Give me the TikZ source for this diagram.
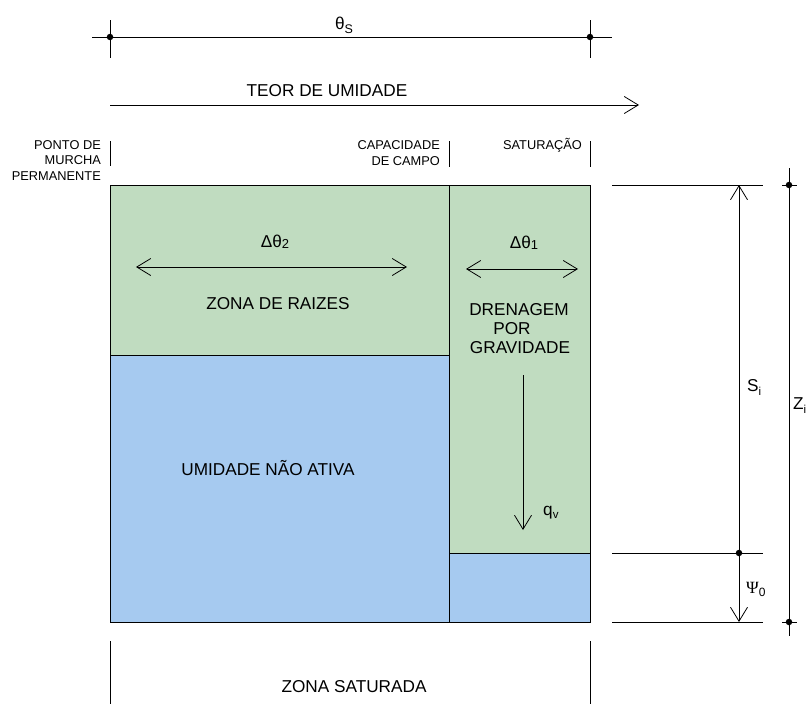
\documentclass[tikz,border=0pt]{standalone}
\usepackage{fontspec}
\setmainfont{Liberation Sans}
\newfontfamily\serifgr{Liberation Serif}
\usetikzlibrary{arrows.meta}
\definecolor{zgreen}{HTML}{C0DCC0}
\definecolor{zblue}{HTML}{A6CAF0}
\begin{document}
\begin{tikzpicture}[x=1pt,y=-1pt,
  ln/.style={line width=0.8pt, draw=black},
  barb/.style={ln, -{Straight Barb[length=14pt,width=17pt]}},
  dbarb/.style={ln, {Straight Barb[length=14pt,width=17pt]}-{Straight Barb[length=14pt,width=17pt]}},
  big/.style={font=\fontsize{17.2}{20}\selectfont, inner sep=0pt, anchor=base},
  bigw/.style={big, anchor=base west},
  small/.style={font=\fontsize{12.8}{15}\selectfont, inner sep=0pt, anchor=base east},
  dot/.style={circle, fill=black, inner sep=0pt, minimum size=6.5pt}
]
\useasboundingbox (0,0) rectangle (812,704);
% zones
\fill[zgreen] (110,185) rectangle (449,355);
\fill[zblue] (110,355) rectangle (449,622);
\fill[zgreen] (449,185) rectangle (590,553);
\fill[zblue] (449,553) rectangle (590,622);
\draw[ln] (110,185) rectangle (590,622);
\draw[ln] (449,185) -- (449,622);
\draw[ln] (110,355) -- (449,355);
\draw[ln] (449,553) -- (590,553);
% top dimension
\coordinate (tl) at (92,37); \coordinate (tr) at (612,37);
\draw[ln] (tl) -- (tr);
\draw[ln] (110,20) -- (110,58);
\draw[ln] (590,20) -- (590,58);
\node[dot] (d1) at (110,37) {};
\node[dot] (d2) at (590,37) {};
\node[big] (thS) at (344,30) {θ\raisebox{-3pt}{\fontsize{12.5}{14}\selectfont S}};
% moisture arrow
\node[big] (teor) at (327,96) {TEOR DE UMIDADE};
\coordinate (a1) at (110,105); \coordinate (a2) at (639,105);
\draw[barb] (a1) -- (a2);
% small labels
\node[small] (p1) at (101,149) {PONTO DE};
\node[small] (p2) at (101,164.5) {MURCHA};
\node[small] (p3) at (101,180) {PERMANENTE};
\node[small] (c1) at (440,149) {CAPACIDADE};
\node[small] (c2) at (440,165) {DE CAMPO};
\node[small] (s1) at (582,149) {SATURAÇÃO};
\draw[ln] (110,141) -- (110,166);
\draw[ln] (449,141) -- (449,167);
\draw[ln] (590,141) -- (590,167);
% delta arrows
\node[big] (dt2) at (275,247) {Δθ\raisebox{-1pt}{\fontsize{13}{14}\selectfont 2}};
\node[big] (dt1) at (524,248) {Δθ\raisebox{-1pt}{\fontsize{13}{14}\selectfont 1}};
\coordinate (b1) at (136,267); \coordinate (b2) at (407,267);
\draw[dbarb] (b1) -- (b2);
\coordinate (e1) at (466,269); \coordinate (e2) at (578,269);
\draw[dbarb] (e1) -- (e2);
% zone texts
\node[big] (zr) at (278,309) {ZONA DE RAIZES};
\node[big] (dr1) at (519,315) {DRENAGEM};
\node[big] (dr2) at (512,334) {POR};
\node[big] (dr3) at (520,353) {GRAVIDADE};
\node[big] (una) at (268,475) {UMIDADE NÃO ATIVA};
\coordinate (q1) at (523,375); \coordinate (q2) at (523,530);
\draw[barb] (q1) -- (q2);
\node[bigw] (qv) at (543,515) {q\raisebox{-3pt}{\fontsize{11.5}{13}\selectfont v}};
% bottom
\node[big] (zs) at (354,692) {ZONA SATURADA};
\draw[ln] (110,641) -- (110,704);
\draw[ln] (590,641) -- (590,704);
% right dimensions
\coordinate (h1) at (612,185); \coordinate (h1e) at (763,185);
\coordinate (h2) at (612,553); \coordinate (h2e) at (763,553);
\coordinate (h3) at (612,622); \coordinate (h3e) at (763,622);
\draw[ln] (h1) -- (h1e);
\draw[ln] (h2) -- (h2e);
\draw[ln] (h3) -- (h3e);
\coordinate (si1) at (739,185); \coordinate (si2) at (739,622);
\draw[dbarb] (si1) -- (si2);
\node[dot] (d3) at (739,553) {};
\coordinate (z1) at (789,168); \coordinate (z2) at (789,636);
\draw[ln] (z1) -- (z2);
\draw[ln] (782,185) -- (797,185);
\draw[ln] (782,622) -- (797,622);
\node[dot] (d4) at (789,185) {};
\node[dot] (d5) at (789,622) {};
\node[bigw] (si) at (747,391) {S\raisebox{-4pt}{\fontsize{11.5}{13}\selectfont i}};
\node[bigw] (zi) at (793,409) {Z\raisebox{-4pt}{\fontsize{11.5}{13}\selectfont i}};
\node[bigw] (psi) at (746,593) {{\serifgr Ψ}\raisebox{-3pt}{\fontsize{12}{13}\selectfont 0}};
\end{tikzpicture}
\end{document}
